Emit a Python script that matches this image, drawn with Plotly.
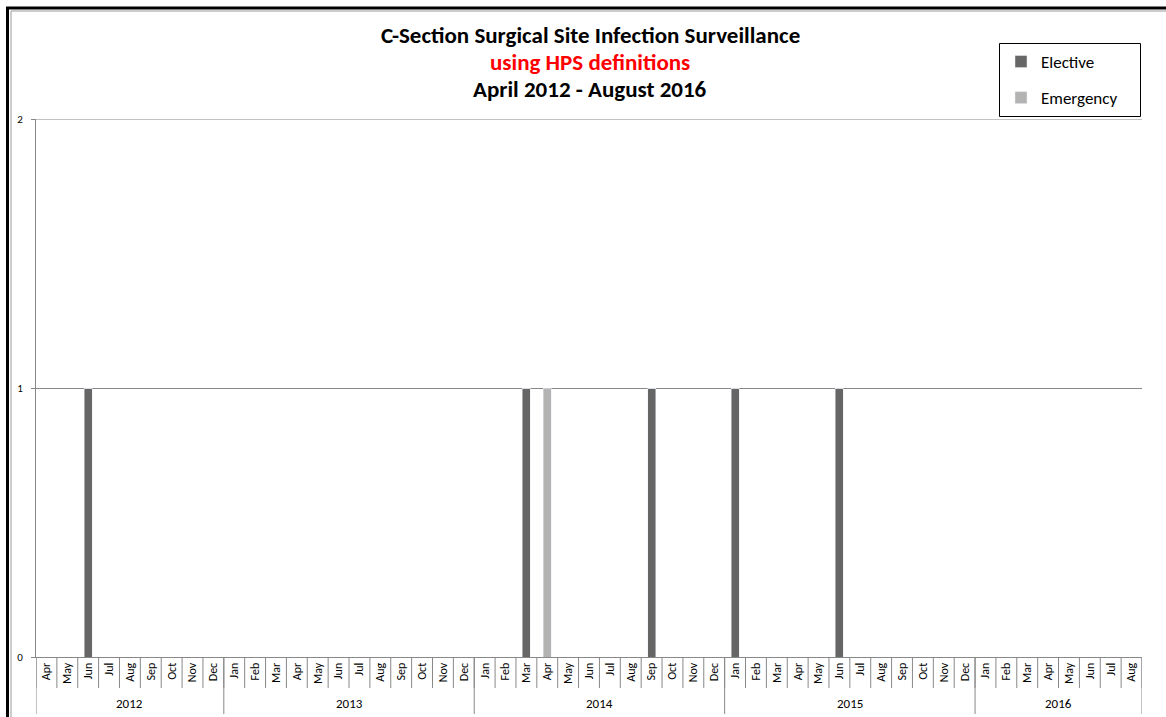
import plotly.graph_objects as go

# ---- data ----
years = ["2012", "2013", "2014", "2015", "2016"]
months_per_year = [
    ["Apr", "May", "Jun", "Jul", "Aug", "Sep", "Oct", "Nov", "Dec"],
    ["Jan", "Feb", "Mar", "Apr", "May", "Jun", "Jul", "Aug", "Sep", "Oct", "Nov", "Dec"],
    ["Jan", "Feb", "Mar", "Apr", "May", "Jun", "Jul", "Aug", "Sep", "Oct", "Nov", "Dec"],
    ["Jan", "Feb", "Mar", "Apr", "May", "Jun", "Jul", "Aug", "Sep", "Oct", "Nov", "Dec"],
    ["Jan", "Feb", "Mar", "Apr", "May", "Jun", "Jul", "Aug"],
]
elective = [
    0, 0, 1, 0, 0, 0, 0, 0, 0,
    0, 0, 0, 0, 0, 0, 0, 0, 0, 0, 0, 0,
    0, 0, 1, 0, 0, 0, 0, 0, 1, 0, 0, 0,
    1, 0, 0, 0, 0, 1, 0, 0, 0, 0, 0, 0,
    0, 0, 0, 0, 0, 0, 0, 0,
]
emergency = [
    0, 0, 0, 0, 0, 0, 0, 0, 0,
    0, 0, 0, 0, 0, 0, 0, 0, 0, 0, 0, 0,
    0, 0, 0, 1, 0, 0, 0, 0, 0, 0, 0, 0,
    0, 0, 0, 0, 0, 0, 0, 0, 0, 0, 0, 0,
    0, 0, 0, 0, 0, 0, 0, 0,
]
y_ticks = [0, 1, 2]
title_lines = ["C-Section Surgical Site Infection Surveillance",
               "using HPS definitions",
               "April 2012 - August 2016"]

# ---- derived categories ----
cats, month_labels = [], []
for y, ms in zip(years, months_per_year):
    for m in ms:
        cats.append(f"{m} {y}")
        month_labels.append(m)
n = len(cats)

W, H = 1166, 717
L, R, T, B = 36, 24, 119, 60
PW, PH = W - L - R, H - T - B
FONT = "Carlito, Calibri, Lato, sans-serif"
AX = "#888888"


def px(x):
    return (x - L) / PW


def py(y):
    return (H - B - y) / PH


fig = go.Figure()
fig.add_trace(go.Bar(x=cats, y=elective, name="Elective", marker_color="#666666",
                     legendgroup="a"))
fig.add_trace(go.Bar(x=cats, y=emergency, name="Emergency", marker_color="#b3b3b3",
                     legendgroup="b"))

shapes = []
# category boundary ticks
for i in range(n + 1):
    shapes.append(dict(type="line", xref="x", yref="paper", x0=i - 0.5, x1=i - 0.5,
                       y0=0, y1=py(688), line=dict(color=AX, width=1)))
# year dividers and labels
annotations = []
start = 0
bounds = [0]
for y, ms in zip(years, months_per_year):
    end = start + len(ms)
    bounds.append(end)
    annotations.append(dict(x=(start + end - 1) / 2, y=py(704), xref="x", yref="paper",
                            text=y, showarrow=False, font=dict(family=FONT, size=13, color="#000"),
                            xanchor="center", yanchor="middle"))
    start = end
for b in bounds:
    shapes.append(dict(type="line", xref="x", yref="paper", x0=b - 0.5, x1=b - 0.5,
                       y0=0, y1=py(714), line=dict(color=AX, width=1)))

# top gridline at max tick
shapes.append(dict(type="line", xref="paper", yref="y", x0=px(33), x1=1, y0=y_ticks[-1],
                   y1=y_ticks[-1], line=dict(color=AX, width=1)))

# legend box
shapes.append(dict(type="rect", xref="paper", yref="paper", x0=px(999.5), x1=px(1140.5),
                   y0=py(43.5), y1=py(116.5), line=dict(color="#000", width=1),
                   fillcolor="rgba(0,0,0,0)"))

# outer frame (Excel chart border)
shapes.append(dict(type="line", xref="paper", yref="paper", x0=px(7.5), x1=px(7.5),
                   y0=py(7), y1=py(720), line=dict(color="#000", width=3)))
shapes.append(dict(type="line", xref="paper", yref="paper", x0=px(6), x1=px(1170),
                   y0=py(8), y1=py(8), line=dict(color="#000", width=3)))
shapes.append(dict(type="line", xref="paper", yref="paper", x0=px(11), x1=px(11),
                   y0=py(11), y1=py(720), line=dict(color="#999", width=1)))
shapes.append(dict(type="line", xref="paper", yref="paper", x0=px(11), x1=px(1170),
                   y0=py(11), y1=py(11), line=dict(color="#999", width=1)))

# title
title_y = [35, 62, 89]
title_col = ["#000000", "#ff0000", "#000000"]
for t, yy, c in zip(title_lines, title_y, title_col):
    annotations.append(dict(x=px(590), y=py(yy), xref="paper", yref="paper",
                            text=f"<b>{t}</b>", showarrow=False,
                            font=dict(family=FONT, size=23, color=c),
                            xanchor="center", yanchor="middle"))

fig.update_layout(
    width=W, height=H,
    margin=dict(l=L, r=R, t=T, b=B, autoexpand=False),
    paper_bgcolor="white", plot_bgcolor="white",
    barmode="stack", bargap=0.62,
    font=dict(family=FONT, size=11, color="#000"),
    showlegend=True,
    legend=dict(x=px(1001), y=py(44), xanchor="left", yanchor="top",
                borderwidth=0, bgcolor="rgba(0,0,0,0)",
                font=dict(family=FONT, size=17, color="#000"),
                traceorder="grouped", tracegroupgap=11,
                itemclick=False),
    xaxis=dict(type="category", tickmode="array", tickvals=cats, ticktext=month_labels,
               tickangle=-90, ticks="", showgrid=False, showline=True, linecolor=AX,
               linewidth=1, range=[-0.5, n - 0.5], tickfont=dict(size=12),
               fixedrange=True),
    yaxis=dict(range=[0, 2], tickvals=y_ticks, showgrid=True, gridcolor=AX, gridwidth=1,
               showline=True, linecolor=AX, ticks="outside", ticklen=4, tickcolor=AX,
               tickfont=dict(size=11), ticklabelstandoff=6, zeroline=False, fixedrange=True),
    shapes=shapes,
    annotations=annotations,
)

fig.write_html("out.html", config={"displayModeBar": False},
               post_script="document.body.style.margin='0';")
